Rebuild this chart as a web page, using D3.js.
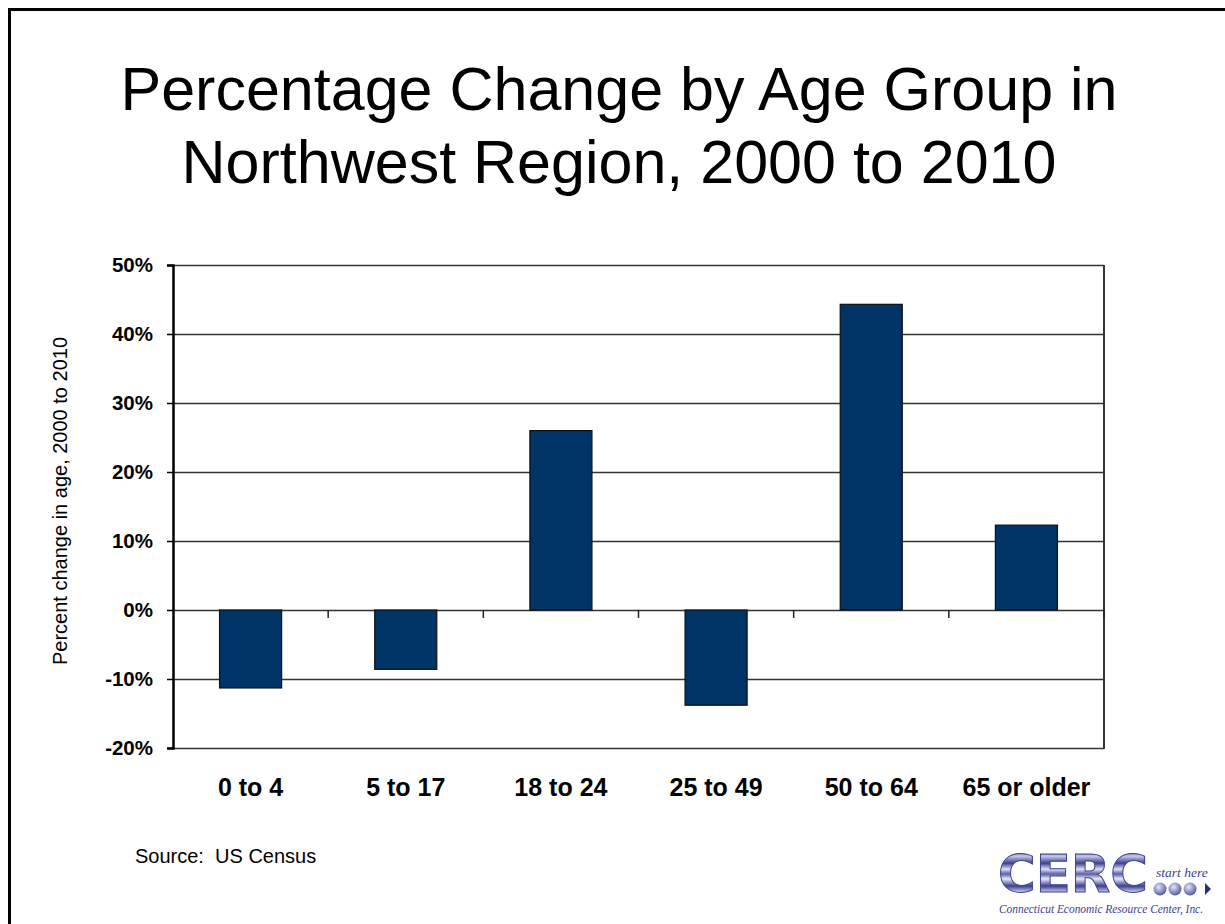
<!DOCTYPE html>
<html>
<head>
<meta charset="utf-8">
<script src="https://cdn.jsdelivr.net/npm/d3@7"></script>
<style>
  html, body { margin: 0; padding: 0; background: #fff; }
  svg { display: block; }
</style>
</head>
<body>
<script>
// ---- data ----
const categories = ["0 to 4", "5 to 17", "18 to 24", "25 to 49", "50 to 64", "65 or older"];
const values = [-0.113, -0.086, 0.260, -0.138, 0.443, 0.123];
const yTicks = [-0.2, -0.1, 0, 0.1, 0.2, 0.3, 0.4, 0.5];
const yTickLabels = ["-20%", "-10%", "0%", "10%", "20%", "30%", "40%", "50%"];
const titleLines = ["Percentage Change by Age Group in", "Northwest Region, 2000 to 2010"];
const yAxisTitle = "Percent change in age, 2000 to 2010";
const sourceText = "Source:  US Census";

const W = 1225, H = 924;
const svg = d3.select("body").append("svg").attr("width", W).attr("height", H);
const font = "Liberation Sans, Arial, sans-serif";

// slide frame
svg.append("rect").attr("x", 9.5).attr("y", 9.5).attr("width", W + 20).attr("height", H + 20)
  .attr("fill", "none").attr("stroke", "#000").attr("stroke-width", 3);

// title
svg.append("g").selectAll("text").data(titleLines).join("text")
  .attr("x", 619).attr("y", (d, i) => 110 + i * 73)
  .attr("text-anchor", "middle")
  .attr("font-family", font)
  .attr("font-size", 61).attr("fill", "#000").text(d => d);

const plot = { left: 173, right: 1104, top: 265, bottom: 748 };
const x = d3.scaleBand().domain(categories).range([plot.left, plot.right]).paddingInner(0.6).paddingOuter(0.3);
const xb = d3.scaleBand().domain(categories).range([plot.left, plot.right]);
const y = d3.scaleLinear().domain([-0.2, 0.5]).range([plot.bottom, plot.top]);

// gridlines
svg.append("g").selectAll("line").data(yTicks).join("line")
  .attr("x1", plot.left).attr("x2", plot.right)
  .attr("y1", d => Math.round(y(d)) + 0.5).attr("y2", d => Math.round(y(d)) + 0.5)
  .attr("stroke", "#333").attr("stroke-width", 1.5);

// right border
svg.append("line").attr("x1", plot.right).attr("x2", plot.right)
  .attr("y1", plot.top).attr("y2", plot.bottom + 1)
  .attr("stroke", "#333").attr("stroke-width", 2);

// bars
svg.append("g").selectAll("rect").data(categories).join("rect")
  .attr("x", d => x(d)).attr("width", x.bandwidth())
  .attr("y", (d, i) => y(Math.max(0, values[i])))
  .attr("height", (d, i) => Math.abs(y(values[i]) - y(0)))
  .attr("fill", "#003366").attr("stroke", "#111").attr("stroke-width", 1.2);

// y axis
const yAxis = d3.axisLeft(y).tickValues(yTicks).tickFormat((d, i) => yTickLabels[i]).tickSize(6).tickPadding(14);
const gy = svg.append("g").attr("transform", `translate(${plot.left},0)`).call(yAxis);
gy.select(".domain").attr("stroke", "#000").attr("stroke-width", 2.5);
gy.selectAll(".tick line").attr("stroke", "#000").attr("stroke-width", 1.5);
gy.selectAll("text").attr("font-family", font)
  .attr("font-weight", "bold").attr("font-size", 20.5).attr("fill", "#000");

// x axis at zero with boundary ticks
const boundaries = categories.slice(1).map(c => xb(c)).concat([plot.right]);
svg.append("g").selectAll("line").data(boundaries).join("line")
  .attr("x1", d => d).attr("x2", d => d)
  .attr("y1", y(0)).attr("y2", y(0) + 8)
  .attr("stroke", "#222").attr("stroke-width", 1.5);

// x labels
svg.append("g").selectAll("text").data(categories).join("text")
  .attr("x", d => xb(d) + xb.bandwidth() / 2).attr("y", 796)
  .attr("text-anchor", "middle")
  .attr("font-family", font)
  .attr("font-weight", "bold").attr("font-size", 25).attr("fill", "#000").text(d => d);

// y axis title
svg.append("text").attr("transform", "translate(67,501) rotate(-90)")
  .attr("text-anchor", "middle")
  .attr("font-family", font)
  .attr("font-size", 20).attr("fill", "#000").text(yAxisTitle);

// source
svg.append("text").attr("x", 135).attr("y", 863)
  .attr("font-family", font).style("white-space", "pre")
  .attr("font-size", 20).attr("fill", "#000").text(sourceText);

// logo
const defs = svg.append("defs");
const lg = defs.append("linearGradient").attr("id", "cercg").attr("x1", 0).attr("y1", 0).attr("x2", 0).attr("y2", 1);
const stripes = [["#9ea2d4",0],["#3d428f",0.12],["#c9cbe8",0.2],["#3b4090",0.32],["#dfe0f2",0.42],["#5a5fa8",0.5],["#e8e9f6",0.58],["#3b4090",0.7],["#c9cbe8",0.8],["#3d428f",0.9],["#8d91c8",1]];
stripes.forEach(s => lg.append("stop").attr("offset", s[1]).attr("stop-color", s[0]));
const rg = defs.append("radialGradient").attr("id", "ballg").attr("cx", 0.4).attr("cy", 0.35).attr("r", 0.7);
rg.append("stop").attr("offset", 0).attr("stop-color", "#e6e7f5");
rg.append("stop").attr("offset", 1).attr("stop-color", "#4a4f9a");

const logo = svg.append("g");
logo.append("text").attr("x", 998).attr("y", 892)
  .attr("font-family", "DejaVu Sans, sans-serif").attr("font-weight", "bold")
  .attr("font-size", 52).attr("textLength", 150).attr("lengthAdjust", "spacingAndGlyphs")
  .attr("fill", "url(#cercg)").attr("stroke", "#3b4090").attr("stroke-width", 1)
  .text("CERC");
logo.append("text").attr("x", 1156).attr("y", 877)
  .attr("font-family", "Liberation Serif, serif").attr("font-style", "italic")
  .attr("font-size", 13.5).attr("fill", "#3b4090").text("start here");
logo.append("g").selectAll("circle").data([1160, 1175, 1190]).join("circle")
  .attr("cx", d => d).attr("cy", 889).attr("r", 6.5).attr("fill", "url(#ballg)");
logo.append("path").attr("d", "M1205,883 L1211,889 L1205,895 Z").attr("fill", "#2a2f80");
logo.append("text").attr("x", 999).attr("y", 913)
  .attr("font-family", "Liberation Serif, serif").attr("font-style", "italic")
  .attr("font-size", 11.5).attr("textLength", 204).attr("lengthAdjust", "spacingAndGlyphs")
  .attr("fill", "#3b4090").text("Connecticut Economic Resource Center, Inc.");
</script>
</body>
</html>
